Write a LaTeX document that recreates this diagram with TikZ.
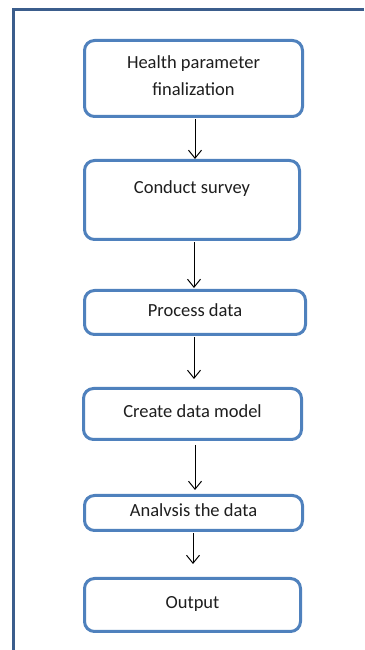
\documentclass[tikz,border=0pt]{standalone}
\usepackage{fontspec}
\setmainfont{Carlito}
\usetikzlibrary{arrows.meta}
\definecolor{boxblue}{HTML}{4F81BD}
\definecolor{framebl}{HTML}{3B5D8C}
\definecolor{txtgray}{HTML}{1E1E1E}
\begin{document}
\begin{tikzpicture}[x=1pt,y=1pt]
		\tikzstyle{stage}=[draw=boxblue,line width=3pt,rounded corners=10pt,fill=white,text=txtgray,align=center,font=\fontsize{18.5}{27}\selectfont,text height=12pt,text depth=4pt,inner sep=0pt]
		\tikzstyle{flow}=[line width=1pt,-{Straight Barb[length=8pt,width=13pt,line width=1pt]}]
		\useasboundingbox (0,0) rectangle (364,650);
		\draw[framebl,line width=3pt] (13,0) -- (13,640) -- (364,640);
		\node[stage,minimum width=218pt,minimum height=76pt,text height=39pt] (s_1) at (193.5,571.5) {Health parameter\\finalization};
		\node[stage,minimum width=215pt,minimum height=79pt,text depth=24pt] (s_2) at (192,450) {Conduct survey};
		\node[stage,minimum width=221pt,minimum height=44pt] (s_3) at (195,337.5) {Process data};
		\node[stage,minimum width=218pt,minimum height=51pt] (s_4) at (192.5,236) {Create data model};
		\node[stage,minimum width=218pt,minimum height=35pt] (s_5) at (193.5,137) {Analvsis the data};
		\node[stage,minimum width=216pt,minimum height=53pt] (s_6) at (192.5,45) {Output};
		\draw[flow] (s_1.south) ++(1.5,-1.5) coordinate (a_1) -- (a_1 |- s_2.north);
		\draw[flow,shorten >=1pt] (s_2.south) ++(2,-1.5) coordinate (a_2) -- (a_2 |- s_3.north);
		\draw[flow,shorten >=8pt] (s_3.south) ++(-1,-1.5) coordinate (a_3) -- (a_3 |- s_4.north);
		\draw[flow,shorten >=4pt] (s_4.south) ++(2.5,-4) coordinate (a_4) -- (a_4 |- s_5.north);
		\draw[flow,shorten >=13pt] (s_5.south) ++(-0.5,-1.5) coordinate (a_5) -- (a_5 |- s_6.north);
	\end{tikzpicture}
\end{document}
